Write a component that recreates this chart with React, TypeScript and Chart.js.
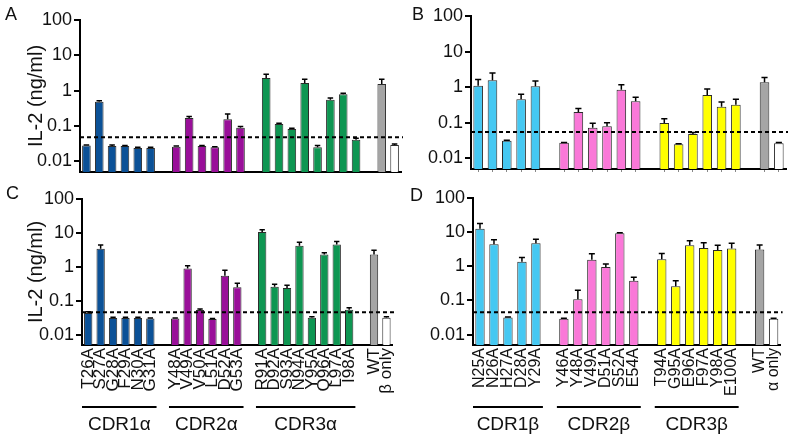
import React, { useEffect, useRef } from 'react';
import { Chart, registerables } from 'chart.js';
Chart.register(...registerables);

// ---------- data ----------
const alphaLabels = ['T26A','S27A','G28A','F29A','N30A','G31A','','Y48A','V49A','V50A','L51A','D52A','G53A','','R91A','D92A','S93A','N94A','Y95A','Q96A','L97A','I98A','','WT','β only'];
const betaLabels = ['N25A','N26A','H27A','D28A','Y29A','','Y46A','Y48A','V49A','D51A','S52A','E54A','','T94A','G95A','E96A','F97A','Y98A','E100A','','WT','α only'];

const aValues = [0.028,0.49,0.027,0.027,0.024,0.024,null,0.026,0.17,0.027,0.025,0.156,0.09,null,2.3,0.115,0.083,1.65,0.025,0.55,0.79,0.041,null,1.55,0.029];
const aUpper  = [0.029,0.52,0.029,0.028,0.025,0.025,null,0.027,0.185,0.028,0.026,0.22,0.097,null,2.9,0.12,0.087,2.1,0.028,0.62,0.85,0.045,null,2.1,0.031];

const bValues = [1.1,1.57,0.031,0.46,1.06,null,0.0275,0.2,0.072,0.079,0.84,0.4,null,0.098,0.0247,0.048,0.6,0.28,0.32,null,1.38,0.0265];
const bUpper  = [1.65,2.5,0.032,0.63,1.5,null,0.028,0.25,0.096,0.1,1.16,0.52,null,0.13,0.0255,0.053,0.88,0.38,0.46,null,1.88,0.028];

const cValues = [0.044,3.4,0.031,0.031,0.031,0.03,null,0.03,0.89,0.054,0.029,0.55,0.25,null,10.7,0.26,0.24,4.2,0.032,2.3,4.6,0.055,null,2.3,0.032];
const cUpper  = [0.048,4.4,0.033,0.033,0.033,0.031,null,0.031,1.08,0.057,0.03,0.79,0.33,null,12.5,0.31,0.29,5.3,0.034,2.6,5.6,0.063,null,3.1,0.034];

const dValues = [12.4,4.4,0.032,1.36,4.7,null,0.029,0.108,1.55,0.95,9.2,0.38,null,1.6,0.26,4.1,3.4,3.0,3.3,null,3.1,0.029];
const dUpper  = [17.8,5.9,0.033,1.8,6.1,null,0.03,0.2,2.3,1.17,9.5,0.48,null,2.35,0.38,5.6,4.9,4.1,4.7,null,4.2,0.03];

const yTicks = [0.01, 0.1, 1, 10, 100];
const thresholdA = 0.048;
const thresholdB = 0.055;
const thresholdC = 0.046;
const thresholdD = 0.045;

const alphaGroups = [
  { label: 'CDR1α', from: 0, to: 5 },
  { label: 'CDR2α', from: 7, to: 12 },
  { label: 'CDR3α', from: 14, to: 21 },
];
const betaGroups = [
  { label: 'CDR1β', from: 0, to: 4 },
  { label: 'CDR2β', from: 6, to: 11 },
  { label: 'CDR3β', from: 13, to: 18 },
];

// ---------- styles ----------
const FONT = "'Liberation Sans', Arial, Helvetica, sans-serif";
const rep = (c: string, n: number) => Array(n).fill(c);
const BLUE = '#0b5197', PURPLE = '#990f99', GREEN = '#0e9652', GREY = '#a5a5a5', WHITE = '#ffffff';
const CYAN = '#45c8f2', PINK = '#fa78d8', YELLOW = '#ffff00';
const alphaColors = [...rep(BLUE, 6), 'transparent', ...rep(PURPLE, 6), 'transparent', ...rep(GREEN, 8), 'transparent', GREY, WHITE];
const betaColors = [...rep(CYAN, 5), 'transparent', ...rep(PINK, 6), 'transparent', ...rep(YELLOW, 6), 'transparent', GREY, WHITE];

type PanelSpec = {
  left: number; top: number; width: number; height: number;
  labels: string[]; values: (number | null)[]; upper: (number | null)[]; colors: string[];
  threshold: number;
  padTop: number; padRight: number; yWidth: number; xHeight: number;
  showTitle: boolean; showXLabels: boolean; xLabelSize: number; xTickMarks: boolean;
  groups?: { label: string; from: number; to: number }[];
  groupLineY?: number; groupTextY?: number;
};

function buildConfig(p: PanelSpec): any {
  const extras = {
    id: 'extras',
    afterDatasetsDraw(chart: any) {
      const ctx = chart.ctx;
      const y = chart.scales.y;
      const area = chart.chartArea;
      const meta = chart.getDatasetMeta(0);
      ctx.save();
      // error bars
      ctx.strokeStyle = '#000';
      ctx.lineWidth = 1.5;
      meta.data.forEach((el: any, i: number) => {
        const up = p.upper[i];
        const v = p.values[i];
        if (up == null || v == null) return;
        const yTop = y.getPixelForValue(v);
        const yErr = y.getPixelForValue(up);
        const half = el.width * 0.32;
        ctx.beginPath();
        ctx.moveTo(el.x, yTop);
        ctx.lineTo(el.x, yErr);
        ctx.moveTo(el.x - half, yErr);
        ctx.lineTo(el.x + half, yErr);
        ctx.stroke();
      });
      // dashed threshold line
      const ty = y.getPixelForValue(p.threshold);
      ctx.setLineDash([4, 3]);
      ctx.lineWidth = 2;
      ctx.beginPath();
      ctx.moveTo(area.left, ty);
      ctx.lineTo(area.right + 2, ty);
      ctx.stroke();
      ctx.restore();
    },
    afterDraw(chart: any) {
      if (!p.groups) return;
      const ctx = chart.ctx;
      const x = chart.scales.x;
      const slot = x.getPixelForValue(1) - x.getPixelForValue(0);
      ctx.save();
      ctx.strokeStyle = '#000';
      ctx.lineWidth = 2;
      ctx.fillStyle = '#111';
      ctx.font = `19px ${FONT}`;
      ctx.textAlign = 'center';
      ctx.textBaseline = 'middle';
      p.groups.forEach((g) => {
        const x0 = x.getPixelForValue(g.from) - slot / 2;
        const x1 = x.getPixelForValue(g.to) + slot / 2;
        ctx.beginPath();
        ctx.moveTo(x0, p.groupLineY!);
        ctx.lineTo(x1, p.groupLineY!);
        ctx.stroke();
        ctx.fillText(g.label, (x0 + x1) / 2, p.groupTextY!);
      });
      ctx.restore();
    },
  };

  return {
    type: 'bar',
    data: {
      labels: p.labels,
      datasets: [{
        data: p.values,
        backgroundColor: p.colors,
        borderColor: '#2a2a2a',
        borderWidth: 1,
        borderSkipped: 'bottom',
        barPercentage: 0.67,
        categoryPercentage: 1,
      }],
    },
    options: {
      responsive: false,
      animation: false,
      events: [],
      layout: { padding: { left: 0, top: p.padTop, right: p.padRight, bottom: 0 } },
      plugins: { legend: { display: false }, tooltip: { enabled: false } },
      scales: {
        x: {
          type: 'category',
          offset: true,
          grid: {
            display: true,
            offset: false,
            drawOnChartArea: false,
            drawTicks: p.xTickMarks,
            tickLength: 3,
            lineWidth: 1,
            tickColor: (c: any) => (c.index != null && p.values[c.index] != null ? '#888' : 'rgba(0,0,0,0)'),
          },
          border: { display: true, color: '#000', width: 2 },
          ticks: {
            display: p.showXLabels,
            autoSkip: false,
            minRotation: 90,
            maxRotation: 90,
            padding: 3,
            color: p.showXLabels ? '#111' : 'rgba(0,0,0,0)',
            callback: (_v: any, i: number) => (p.showXLabels ? p.labels[i] : ''),
            font: { family: FONT, size: p.xLabelSize },
          },
          afterFit: (s: any) => { s.height = p.xHeight; },
        },
        y: {
          type: 'logarithmic',
          min: 0.005,
          max: 100,
          afterBuildTicks: (ax: any) => { ax.ticks = yTicks.map((v) => ({ value: v })); },
          ticks: {
            callback: (v: any) => String(v),
            color: '#111',
            padding: 2,
            font: { family: FONT, size: 18 },
          },
          grid: { display: true, drawOnChartArea: false, drawTicks: true, tickLength: 6, lineWidth: 2, color: '#000' },
          border: { display: true, color: '#000', width: 2 },
          title: {
            display: p.showTitle,
            text: 'IL-2 (ng/ml)',
            color: '#111',
            font: { family: FONT, size: 20 },
            padding: { top: 24, bottom: 0 },
          },
          afterFit: (s: any) => { s.width = p.yWidth; },
        },
      },
    },
    plugins: [extras],
  };
}

function Panel({ p }: { p: PanelSpec }) {
  const ref = useRef<HTMLCanvasElement | null>(null);
  useEffect(() => {
    const chart = new Chart(ref.current as HTMLCanvasElement, buildConfig(p));
    return () => chart.destroy();
  }, []);
  return (
    <canvas
      ref={ref}
      width={p.width}
      height={p.height}
      style={{ position: 'absolute', left: p.left, top: p.top, width: p.width, height: p.height }}
    />
  );
}

const panels: PanelSpec[] = [
  {
    left: 0, top: 0, width: 410, height: 200,
    labels: alphaLabels, values: aValues, upper: aUpper, colors: alphaColors, threshold: thresholdA,
    padTop: 20, padRight: 9, yWidth: 80, xHeight: 28,
    showTitle: true, showXLabels: false, xLabelSize: 17, xTickMarks: false,
  },
  {
    left: 400, top: 0, width: 396, height: 200,
    labels: betaLabels, values: bValues, upper: bUpper, colors: betaColors, threshold: thresholdB,
    padTop: 16, padRight: 10, yWidth: 71, xHeight: 31,
    showTitle: false, showXLabels: false, xLabelSize: 16, xTickMarks: true,
  },
  {
    left: 0, top: 185, width: 410, height: 255,
    labels: alphaLabels, values: cValues, upper: cUpper, colors: alphaColors, threshold: thresholdC,
    padTop: 14, padRight: 8, yWidth: 82, xHeight: 95,
    showTitle: true, showXLabels: true, xLabelSize: 17, xTickMarks: false,
    groups: alphaGroups, groupLineY: 222, groupTextY: 240,
  },
  {
    left: 400, top: 185, width: 396, height: 255,
    labels: betaLabels, values: dValues, upper: dUpper, colors: betaColors, threshold: thresholdD,
    padTop: 10, padRight: 8, yWidth: 73, xHeight: 95,
    showTitle: false, showXLabels: true, xLabelSize: 16, xTickMarks: false,
    groups: betaGroups, groupLineY: 222, groupTextY: 240,
  },
];

const letters = [
  { t: 'A', left: 5, top: 5 },
  { t: 'B', left: 412, top: 5 },
  { t: 'C', left: 6, top: 184 },
  { t: 'D', left: 410, top: 186 },
];

export default function App() {
  return (
    <div style={{ position: 'absolute', left: 0, top: 0, width: 796, height: 440, background: '#fff', overflow: 'hidden' }}>
      {panels.map((p, i) => <Panel key={i} p={p} />)}
      {letters.map((l) => (
        <div key={l.t} style={{ position: 'absolute', left: l.left, top: l.top, font: `18px ${FONT}`, color: '#111', lineHeight: '18px', zIndex: 2 }}>
          {l.t}
        </div>
      ))}
    </div>
  );
}
